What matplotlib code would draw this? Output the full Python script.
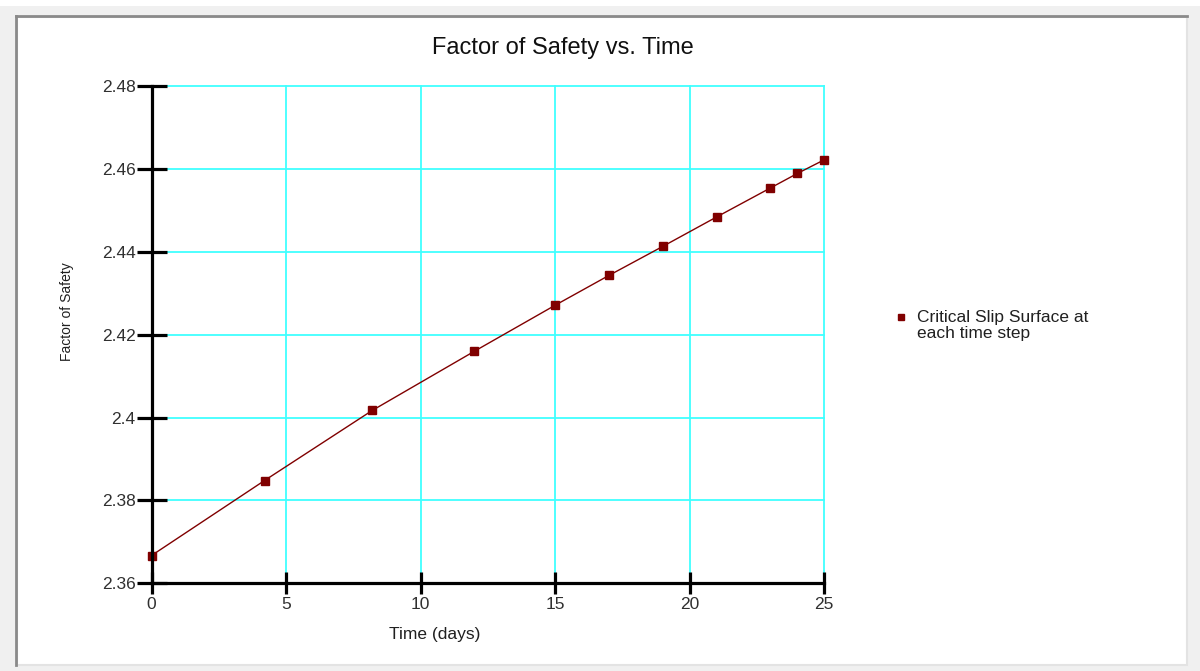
import numpy as np
import matplotlib.pyplot as plt
from matplotlib.patches import Rectangle
from matplotlib.lines import Line2D

# data
time_days = [0, 4.2, 8.2, 12, 15, 17, 19, 21, 23, 24, 25]
factor_of_safety = [2.3667, 2.3848, 2.4017, 2.4160, 2.4271, 2.4343,
                    2.4413, 2.4484, 2.4554, 2.4589, 2.4622]
x_ticks = [0, 5, 10, 15, 20, 25]
y_ticks = [2.36, 2.38, 2.40, 2.42, 2.44, 2.46, 2.48]
y_tick_labels = ["2.36", "2.38", "2.4", "2.42", "2.44", "2.46", "2.48"]
series_label = "Critical Slip Surface at\neach time step"

plt.rcParams["font.family"] = ["Liberation Sans", "DejaVu Sans"]

W, H = 1200, 671
fig = plt.figure(figsize=(W / 100, H / 100), dpi=100, facecolor="#f0f0f0")

# window-like frame
fig.patches.append(Rectangle((0, 1 - 6 / H), 1, 6 / H, transform=fig.transFigure,
                             facecolor="white", edgecolor="none", zorder=-10))
fig.patches.append(Rectangle((17 / W, 1 - 665 / H), (1187 - 17) / W, (665 - 17) / H,
                             transform=fig.transFigure, facecolor="white",
                             edgecolor="#e3e3e3", linewidth=1.5, zorder=-10))
fig.add_artist(Line2D([16 / W, 16 / W], [1 - 665 / H, 1 - 16 / H], color="#8a8a8a", lw=2, zorder=-9))
fig.add_artist(Line2D([16 / W, 1187 / W], [1 - 16 / H, 1 - 16 / H], color="#8a8a8a", lw=2, zorder=-9))

ax = fig.add_axes([151.5 / W, 1 - 583.3 / H, (824.3 - 151.5) / W, (583.3 - 86) / H])
ax.set_zorder(5)
ax.set_facecolor("white")

ax.plot(time_days, factor_of_safety, color="#800000", lw=1, marker="s",
        markersize=5.5, markeredgecolor="#800000", zorder=3, clip_on=False)

ax.set_xlim(0, 25)
ax.set_ylim(2.36, 2.48)
ax.set_xticks(x_ticks)
ax.set_yticks(y_ticks)
ax.set_yticklabels(y_tick_labels)

ax.grid(True, color="#40ffff", lw=1.3)
ax.set_axisbelow(True)
# keep the grid lines at the axis limits fully visible
for gl in ax.get_xgridlines() + ax.get_ygridlines():
    gl.set_clip_on(False)
for s in ["top", "right"]:
    ax.spines[s].set_visible(False)
for s in ["left", "bottom"]:
    ax.spines[s].set_linewidth(2.3)
    ax.spines[s].set_color("black")
    ax.spines[s].set_zorder(4)

ax.tick_params(axis="both", direction="inout", width=2.3,
               labelsize=12.5, colors="black")
ax.tick_params(axis="y", length=21, pad=1)
ax.tick_params(axis="x", length=16, pad=2)
for lbl in ax.get_xticklabels() + ax.get_yticklabels():
    lbl.set_color("#303030")

fig.text(563 / W, 1 - 48 / H, "Factor of Safety vs. Time", ha="center", va="center",
         fontsize=17, color="#101010")
fig.text(435 / W, 1 - 635 / H, "Time (days)", ha="center", va="center",
         fontsize=12.5, color="#202020")
fig.text(67 / W, 1 - 312 / H, "Factor of Safety", ha="center", va="center",
         rotation=90, fontsize=10, color="#202020",
         family=["Liberation Sans Narrow", "Liberation Sans", "DejaVu Sans"])

# legend entry: marker beside first line of text
fig.add_artist(Line2D([901 / W], [1 - 317 / H], color="#800000", marker="s",
                      markersize=5, lw=0))
fig.text(917 / W, 1 - 310.5 / H, series_label, ha="left", va="top",
         fontsize=12.5, color="#202020", linespacing=1.05)

fig.savefig("out.png", dpi=100, facecolor=fig.get_facecolor())
